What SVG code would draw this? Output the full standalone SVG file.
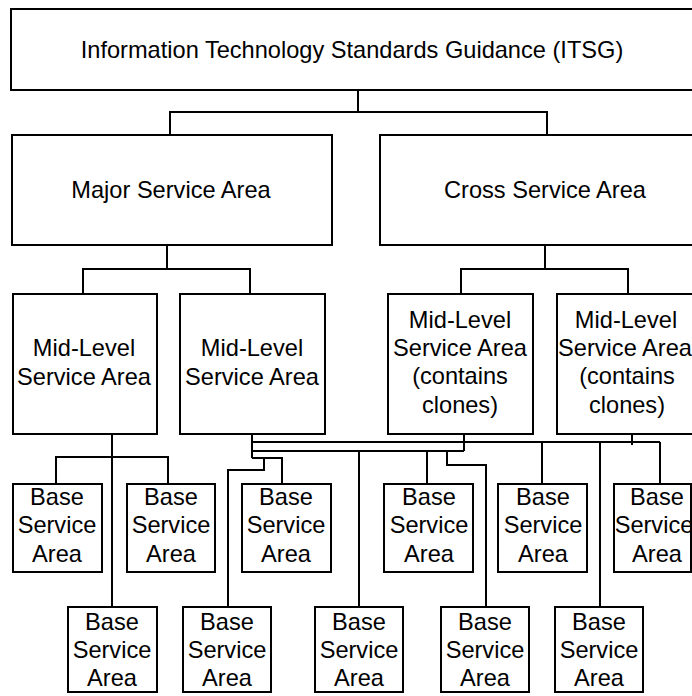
<svg xmlns="http://www.w3.org/2000/svg" width="692" height="696" viewBox="0 0 692 696">
<style>
rect{fill:#fff;stroke:#000;stroke-width:2}
text{font-family:"Liberation Sans",Arial,sans-serif;font-size:23.6px;fill:#000;text-anchor:middle}
#connectors polyline,#connectors line{fill:none;stroke:#000;stroke-width:2}
</style>
<rect x="0" y="0" width="692" height="696" style="stroke:none"/>
<g id="connectors">
<line x1="358" y1="90" x2="358" y2="112"/>
<polyline points="170,135 170,112 547,112 547,135"/>
<line x1="167" y1="245" x2="167" y2="269"/>
<polyline points="83,294 83,269 250,269 250,294"/>
<line x1="545" y1="245" x2="545" y2="269"/>
<polyline points="461,294 461,269 628,269 628,294"/>
<line x1="112" y1="429" x2="112" y2="607"/>
<polyline points="56,484 56,457 168,457 168,484"/>
<line x1="252" y1="433" x2="252" y2="458"/>
<line x1="464" y1="429" x2="464" y2="451"/>
<line x1="632" y1="433" x2="632" y2="445"/>
<line x1="252" y1="442" x2="660" y2="442"/>
<line x1="252" y1="451" x2="464" y2="451"/>
<polyline points="252,458 282,458 282,484"/>
<polyline points="264,458 264,470 228,470 228,607"/>
<line x1="359" y1="451" x2="359" y2="607"/>
<line x1="427" y1="451" x2="427" y2="484"/>
<polyline points="447,451 447,465 486,465 486,607"/>
<line x1="542" y1="442" x2="542" y2="484"/>
<line x1="600" y1="442" x2="600" y2="607"/>
<line x1="660" y1="442" x2="660" y2="484"/>
</g>
<g id="itsg"><rect x="11" y="9" width="700" height="81"/><text x="352" y="58">Information Technology Standards Guidance (ITSG)</text></g>
<g id="major"><rect x="12" y="135" width="320" height="110"/><text x="171" y="198">Major Service Area</text></g>
<g id="cross"><rect x="380" y="135" width="330" height="110"/><text x="545" y="198">Cross Service Area</text></g>
<g id="mid1"><rect x="13" y="294" width="144" height="140"/><text x="84" y="356">Mid-Level</text><text x="84" y="385">Service Area</text></g>
<g id="mid2"><rect x="180" y="294" width="145" height="140"/><text x="252" y="356">Mid-Level</text><text x="252" y="385">Service Area</text></g>
<g id="mid3"><rect x="388" y="294" width="145" height="140"/><text x="460" y="328">Mid-Level</text><text x="460" y="356">Service Area</text><text x="460" y="384">(contains</text><text x="460" y="413">clones)</text></g>
<g id="mid4"><rect x="557" y="294" width="145" height="140"/><text x="626" y="328">Mid-Level</text><text x="625" y="356">Service Area</text><text x="627" y="384">(contains</text><text x="627" y="413">clones)</text></g>
<g id="base-a1"><rect x="13" y="484" width="89" height="88"/><text x="57" y="505">Base</text><text x="57" y="533">Service</text><text x="57" y="562">Area</text></g>
<g id="base-a2"><rect x="127" y="484" width="88" height="88"/><text x="171" y="505">Base</text><text x="171" y="533">Service</text><text x="171" y="562">Area</text></g>
<g id="base-a3"><rect x="242" y="484" width="89" height="88"/><text x="286" y="505">Base</text><text x="286" y="533">Service</text><text x="286" y="562">Area</text></g>
<g id="base-a4"><rect x="384" y="484" width="89" height="88"/><text x="429" y="505">Base</text><text x="429" y="533">Service</text><text x="429" y="562">Area</text></g>
<g id="base-a5"><rect x="498" y="484" width="89" height="88"/><text x="543" y="505">Base</text><text x="543" y="533">Service</text><text x="543" y="562">Area</text></g>
<g id="base-a6"><rect x="614" y="484" width="77" height="88"/><text x="657" y="505">Base</text><text x="654" y="533">Service</text><text x="657" y="562">Area</text></g>
<g id="base-b1"><rect x="68" y="607" width="89" height="85"/><text x="112" y="630">Base</text><text x="112" y="658">Service</text><text x="112" y="686">Area</text></g>
<g id="base-b2"><rect x="183" y="607" width="88" height="85"/><text x="227" y="630">Base</text><text x="227" y="658">Service</text><text x="227" y="686">Area</text></g>
<g id="base-b3"><rect x="315" y="607" width="88" height="85"/><text x="359" y="630">Base</text><text x="359" y="658">Service</text><text x="359" y="686">Area</text></g>
<g id="base-b4"><rect x="441" y="607" width="88" height="85"/><text x="485" y="630">Base</text><text x="485" y="658">Service</text><text x="485" y="686">Area</text></g>
<g id="base-b5"><rect x="555" y="607" width="88" height="85"/><text x="599" y="630">Base</text><text x="599" y="658">Service</text><text x="599" y="686">Area</text></g>
</svg>
